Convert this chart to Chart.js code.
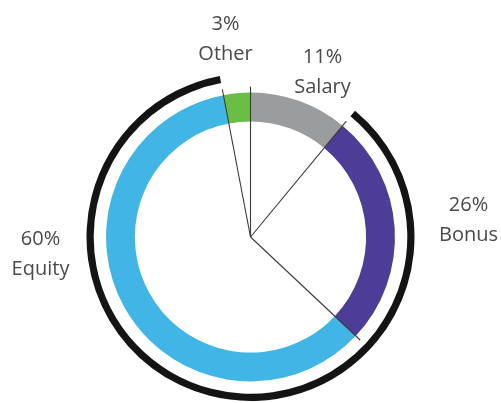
<!DOCTYPE html>
<html lang="en">
<head>
<meta charset="UTF-8">
<title>Compensation mix</title>
<script src="https://cdn.jsdelivr.net/npm/chart.js"></script>
<style>
  html, body { margin: 0; padding: 0; background: #fff; }
  #wrap { width: 501px; height: 403px; position: relative; }
</style>
</head>
<body>
<div id="wrap"><canvas id="mix"></canvas></div>
<script>
const categories = ["Salary", "Bonus", "Equity", "Other"]
const shares = [11, 26, 60, 3]
const colors = ["#9b9c9e", "#4e3d97", "#41b6e6", "#6abd45"]

// outer black arc covers bonus + equity (the variable part)
const variableArc = [shares[0], shares[1] + shares[2], shares[3]]

// label placement, relative to the chart centre
const labelPos = {
  Salary: [72, -174],
  Bonus: [218, -26],
  Equity: [-210, 8],
  Other: [-25, -207],
}

const spokes = {
  id: "spokes",
  afterDatasetsDraw(chart) {
    const meta = chart.getDatasetMeta(2)
    const ctx = chart.ctx
    ctx.save()
    ctx.strokeStyle = "#3a3a3a"
    ctx.lineWidth = 1.1
    for (const arc of meta.data) {
      const len = arc.outerRadius + 6
      ctx.beginPath()
      ctx.moveTo(arc.x, arc.y)
      ctx.lineTo(arc.x + Math.cos(arc.startAngle) * len, arc.y + Math.sin(arc.startAngle) * len)
      ctx.stroke()
    }
    ctx.restore()
  },
}

const outsideLabels = {
  id: "outsideLabels",
  afterDraw(chart) {
    const arc = chart.getDatasetMeta(2).data[0]
    const ctx = chart.ctx
    ctx.save()
    ctx.fillStyle = "#4a4a4a"
    ctx.font = "20px 'Open Sans'"
    ctx.textAlign = "center"
    ctx.textBaseline = "alphabetic"
    categories.forEach((name, i) => {
      const [dx, dy] = labelPos[name]
      const x = arc.x + dx
      const y = arc.y + dy
      ctx.fillText(shares[i] + "%", x, y)
      ctx.fillText(name, x, y + 30)
    })
    ctx.restore()
  },
}

new Chart(document.getElementById("mix"), {
  type: "doughnut",
  data: {
    labels: categories,
    datasets: [
      {
        data: variableArc,
        backgroundColor: ["rgba(0,0,0,0)", "#141414", "rgba(0,0,0,0)"],
        borderWidth: 0,
        weight: 7,
      },
      {
        data: [100],
        backgroundColor: ["rgba(0,0,0,0)"],
        borderWidth: 0,
        weight: 12,
      },
      {
        data: shares,
        backgroundColor: colors,
        borderWidth: 0,
        weight: 28,
      },
    ],
  },
  options: {
    responsive: true,
    maintainAspectRatio: false,
    animation: false,
    radius: 164,
    cutout: 117,
    layout: { padding: { top: 71, bottom: 0, left: 0, right: 0 } },
    plugins: {
      legend: { display: false },
      tooltip: { enabled: false },
    },
  },
  plugins: [spokes, outsideLabels],
})
</script>
</body>
</html>
